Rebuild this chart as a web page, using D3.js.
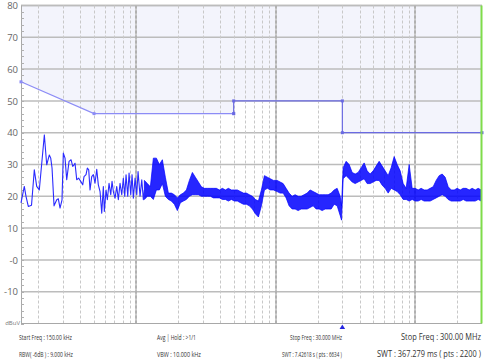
<!DOCTYPE html>
<html>
<head>
<meta charset="utf-8">
<script src="https://cdn.jsdelivr.net/npm/d3@7"></script>
<style>
  body { margin: 0; background: #fff; }
  svg { display: block; }
</style>
</head>
<body>
<div id="plotdiv"></div>
<script>
// Size of the figure
var outerWidth = 485;
var outerHeight = 364;
var plot = { left: 21, top: 5.5, right: 482, bottom: 323.5 };

// Y axis ticks (dBuV)
var yTicks = [-10, 0, 10, 20, 30, 40, 50, 60, 70, 80];
// Vertical grid (MHz) - decades drawn heavier
var gridFreq = [0.2, 0.3, 0.4, 0.5, 0.6, 0.7, 0.8, 0.9,
  2, 3, 4, 5, 6, 7, 8, 9,
  20, 30, 40, 50, 60, 70, 80, 90, 200];
var decadeFreq = [1, 10, 100];

// Limit line
var limitFreq  = [0.15, 0.5, 5, 5, 30, 30, 300];
var limitLevel = [56, 46, 46, 50, 50, 40, 40];

// Trace, low frequency part (single line)
var lineFreq = [0.150, 0.1584, 0.1629, 0.1692, 0.1784, 0.1868, 0.1943, 0.2028, 0.2204, 0.2292,
  0.2393, 0.2449, 0.2502, 0.2586, 0.2704, 0.2776, 0.2855, 0.2950, 0.3014, 0.3100,
  0.3188, 0.3312, 0.3423, 0.3520, 0.3596, 0.3656, 0.3759, 0.3885, 0.4016, 0.4150,
  0.4240, 0.4383, 0.4478, 0.4582, 0.4682, 0.4815, 0.4944, 0.5084, 0.5229, 0.5369,
  0.5522, 0.5679, 0.5831, 0.5927, 0.6096, 0.6228, 0.6405, 0.6587, 0.6730, 0.6876,
  0.7072, 0.7273, 0.7467, 0.7680, 0.7898, 0.8109, 0.8299, 0.8479, 0.8720, 0.8909,
  0.9162, 0.9361, 0.9564, 0.9836, 1.0115, 1.0335, 1.0681, 1.0985, 1.1279, 1.147];
var lineLevel = [17.9, 23.1, 20, 16.8, 17.2, 28.3, 23.1, 22, 39.3, 29.9,
  33, 32, 28.9, 17, 18.9, 19.2, 16.3, 18.9, 33.6, 32,
  25.2, 31, 31.5, 29.4, 29.9, 30.4, 25.2, 25.7, 24.7, 23.6,
  26.2, 26.8, 28.9, 28.3, 22, 26.2, 26.8, 24.1, 28.5, 23.6,
  21.5, 14.7, 23.1, 15.2, 22, 18.9, 24.1, 20.5, 24.7, 21.5,
  19.4, 23.1, 18.9, 24.1, 20.5, 25.7, 20, 26.8, 20, 27.3,
  20.5, 26.8, 19.4, 25.7, 20.5, 27.8, 20, 25.2, 18.9, 22];

// Trace, dense part: min / max envelope per frequency
var bandFreq = [1.147, 1.205, 1.266, 1.330, 1.398, 1.469, 1.543, 1.621, 1.704, 1.790,
  1.881, 1.976, 2.077, 2.182, 2.293, 2.409, 2.531, 2.659, 2.795, 2.936,
  3.085, 3.242, 3.406, 3.579, 3.760, 3.951, 4.151, 4.362, 4.583, 4.815,
  5.060, 5.316, 5.586, 5.869, 6.167, 6.480, 6.808, 7.154, 7.517, 7.898,
  8.299, 8.720, 9.162, 9.627,
  10.23, 10.75, 11.30, 11.87, 12.47, 13.11, 13.77, 14.47, 15.20, 15.97,
  16.79, 17.64, 18.53, 19.47, 20.46, 21.50, 22.59, 23.74, 24.94, 26.21,
  27.54, 28.93, 29.6,
  30.4, 31.94, 33.56, 35.26, 37.05, 38.93, 40.90, 42.98, 45.16, 47.45,
  49.86, 52.39, 55.04, 57.84, 60.77, 63.85, 67.09, 70.49, 74.07, 77.83,
  81.77, 85.92, 90.28, 94.87, 99.68,
  104.7, 110.0, 115.6, 121.5, 127.6, 134.1, 140.9, 148.1, 155.6, 163.5,
  171.8, 180.5, 189.7, 199.3, 209.4, 220.0, 231.2, 242.9, 255.3, 268.2,
  281.8, 296.0];
var bandLo = [19, 20, 20, 19, 22, 22, 24, 20, 19, 18.5,
  17.5, 15.5, 18, 18.5, 19, 20, 20.5, 20.5, 20.5, 20,
  20, 20, 20, 19.5, 19.5, 19.5, 19, 19, 18.5, 19,
  18.5, 18.5, 18, 17.5, 17.5, 17, 16, 14.5, 13.5, 17,
  22, 22.5, 22, 22,
  21.5, 21, 21, 19.5, 17, 16, 16, 15.5, 16, 16,
  16, 16.5, 17, 16, 16, 15.5, 16, 16, 16, 17.5,
  17, 14, 12.5,
  25.5, 26.5, 25.5, 24.5, 24, 24.5, 25, 25.5, 24, 24,
  24.5, 25, 25, 23.5, 22.5, 21, 22.5, 22, 21.5, 20.5,
  19, 19, 18.5, 19, 18.5,
  18.5, 19, 18.5, 18.5, 18.5, 19, 19.5, 20, 20.5, 20,
  19, 18.5, 18.5, 18.5, 18.5, 19, 18.5, 18.5, 18.5, 18.5,
  19, 18.5];
var bandHi = [25, 24, 23, 32, 32, 30, 31.5, 26, 21, 21,
  20.5, 19.5, 20.5, 21, 22, 25, 27.5, 26, 24.5, 23,
  22.5, 22.5, 22.5, 22.5, 22.5, 22, 22.5, 22, 22.5, 22,
  22, 22, 21.5, 21, 21, 20.5, 20, 19, 18.5, 22,
  26.5, 26, 25.5, 25,
  25, 24.5, 24, 22.5, 21, 20, 20.5, 20, 20, 20.5,
  21, 22, 21.5, 21, 20.5, 20.5, 20.5, 20.5, 21, 22,
  22.5, 20, 17,
  29, 31, 30, 27.5, 27, 27.5, 29, 30.5, 28, 27,
  28, 29.5, 31, 29.5, 28, 26.5, 29, 32.5, 30, 28,
  24, 22.5, 30, 22.5, 22.5,
  22, 22.5, 22, 22, 22.5, 23, 25, 26.5, 27, 26,
  23, 22, 22, 22.5, 22, 22.5, 22.5, 22, 22.5, 22,
  22.5, 22];

// Footer texts
var footLeft  = ["Start Freq : 150.00 kHz", "RBW( -6dB ) : 9.000 kHz"];
var footMid   = ["Avg | Hold : >1/1", "VBW : 10.000 kHz"];
var footSeg   = ["Stop Freq : 30.000 MHz", "SWT : 7.42618 s ( pts : 6634 )"];
var footRight = ["Stop Freq : 300.00 MHz", "SWT : 367.279 ms ( pts : 2200 )"];

// Scales
var xScale = d3.scaleLog().domain([0.15, 300]).range([plot.left, plot.right]);
var yScale = d3.scaleLinear().domain([-20, 80]).range([plot.bottom, plot.top]);

var vis = d3.select("#plotdiv").append("svg")
  .attr("width", outerWidth)
  .attr("height", outerHeight);

vis.append("rect").attr("width", outerWidth).attr("height", outerHeight).attr("fill", "#fff");

// Area above the limit line
var limitPts = limitFreq.map(function(f, i) { return [f, limitLevel[i]]; });
vis.append("path")
  .datum(limitPts)
  .attr("fill", "#f3f4fc")
  .attr("d", d3.area()
    .x(function(d) { return xScale(d[0]); })
    .y0(yScale(80))
    .y1(function(d) { return yScale(d[1]); }));

// Horizontal grid
vis.append("g").selectAll("line").data(yTicks.concat([80])).enter().append("line")
  .attr("x1", plot.left).attr("x2", plot.right)
  .attr("y1", function(d) { return yScale(d); })
  .attr("y2", function(d) { return yScale(d); })
  .attr("stroke", "#bcbcbc").attr("stroke-width", 1.5);

// Vertical dashed grid
vis.append("g").selectAll("line").data(gridFreq).enter().append("line")
  .attr("x1", function(d) { return Math.round(xScale(d)) + 0.5; })
  .attr("x2", function(d) { return Math.round(xScale(d)) + 0.5; })
  .attr("y1", plot.top).attr("y2", plot.bottom)
  .attr("stroke", "#c8c8c8").attr("stroke-dasharray", "3,2");

var gDec = vis.append("g").selectAll("g").data(decadeFreq).enter().append("g");
gDec.append("line")
  .attr("x1", function(d) { return Math.round(xScale(d)); })
  .attr("x2", function(d) { return Math.round(xScale(d)); })
  .attr("y1", plot.top).attr("y2", plot.bottom)
  .attr("stroke", "#cdcdcd").attr("stroke-width", 2);
gDec.append("line")
  .attr("x1", function(d) { return Math.round(xScale(d)); })
  .attr("x2", function(d) { return Math.round(xScale(d)); })
  .attr("y1", plot.top).attr("y2", plot.bottom)
  .attr("stroke", "#959595").attr("stroke-dasharray", "3,2");

// Axis lines: left and bottom
vis.append("line").attr("x1", plot.left + 0.5).attr("x2", plot.left + 0.5)
  .attr("y1", plot.top).attr("y2", plot.bottom).attr("stroke", "#a8a8a8");
vis.append("line").attr("x1", plot.left).attr("x2", plot.right)
  .attr("y1", plot.bottom).attr("y2", plot.bottom).attr("stroke", "#a8a8a8");

// Minor ticks on the y axis
var minorY = d3.range(-20, 80, 2);
vis.append("g").selectAll("line").data(minorY).enter().append("line")
  .attr("x1", plot.left).attr("x2", plot.left + 3)
  .attr("y1", function(d) { return Math.round(yScale(d)) + 0.5; })
  .attr("y2", function(d) { return Math.round(yScale(d)) + 0.5; })
  .attr("stroke", "#b0b0b0");

// Y labels
var gAxisY = vis.append("g");
gAxisY.selectAll("text").data(yTicks).enter().append("text")
  .attr("x", plot.left - 3)
  .attr("y", function(d) { return yScale(d) + 3.6; })
  .attr("text-anchor", "end")
  .attr("fill", "#666")
  .style("font-family", "'Open Sans', sans-serif")
  .style("font-size", "9.5px")
  .text(function(d) { return d === 0 ? "-0" : d; });
vis.append("text")
  .attr("x", plot.left - 1).attr("y", plot.bottom + 1)
  .attr("text-anchor", "end")
  .attr("fill", "#777")
  .style("font-family", "'Open Sans', sans-serif")
  .style("font-size", "6px")
  .text("dBuV");

// Limit line, two colours
function limitLine(pts, colour) {
  vis.append("path").datum(pts)
    .attr("fill", "none").attr("stroke", colour).attr("stroke-width", 1.2)
    .attr("d", d3.line()
      .x(function(d) { return xScale(d[0]); })
      .y(function(d) { return yScale(d[1]); }));
  vis.append("g").selectAll("rect").data(pts).enter().append("rect")
    .attr("x", function(d) { return xScale(d[0]) - 1.5; })
    .attr("y", function(d) { return yScale(d[1]) - 1.5; })
    .attr("width", 3).attr("height", 3)
    .attr("fill", colour);
}
limitLine(limitPts.slice(0, 3), "#8c8cf6");
limitLine(limitPts.slice(2), "#6a6ae2");

// Trace - dense band between min and max envelope
var bandPts = bandFreq.map(function(f, i) { return [f, bandLo[i], bandHi[i]]; });
vis.append("path").datum(bandPts)
  .attr("fill", "#0000ff").attr("fill-opacity", 0.85)
  .attr("stroke", "#0000ff").attr("stroke-width", 0.7)
  .attr("stroke-linejoin", "round")
  .attr("d", d3.area()
    .x(function(d) { return xScale(d[0]); })
    .y0(function(d) { return yScale(d[1]); })
    .y1(function(d) { return yScale(d[2]); }));

// Trace - low frequency line
var linePts = lineFreq.map(function(f, i) { return [f, lineLevel[i]]; });
vis.append("path").datum(linePts)
  .attr("fill", "none").attr("stroke", "#2a2aff").attr("stroke-width", 1.1)
  .attr("stroke-linejoin", "round")
  .attr("d", d3.line()
    .x(function(d) { return xScale(d[0]); })
    .y(function(d) { return yScale(d[1]); }));

// Green right edge
vis.append("line").attr("x1", plot.right - 0.5).attr("x2", plot.right - 0.5)
  .attr("y1", plot.top).attr("y2", plot.bottom)
  .attr("stroke", "#7fdc4a").attr("stroke-width", 2);

// Segment marker at 30 MHz
var mx = xScale(30);
vis.append("path")
  .attr("d", "M" + mx + "," + (plot.bottom + 1) + " l2.8,4.5 l-5.6,0 z")
  .attr("fill", "#2424e0");

// Footer - condensed by squeezing each text to the width it has in the reference
function footer(lines, x, size, widths, alignRight) {
  lines.forEach(function(t, i) {
    var g = vis.append("g");
    var txt = g.append("text")
      .attr("fill", "#333")
      .style("font-family", "'Open Sans', sans-serif")
      .style("font-size", size + "px")
      .text(t);
    var natural = txt.node().getComputedTextLength();
    var sx = widths[i] / natural;
    var left = alignRight ? x - widths[i] : x;
    g.attr("transform", "translate(" + left + "," + (i === 0 ? 340 : 356.8) + ") scale(" + sx + ",1)");
  });
}
footer(footLeft, 19, 8, [53, 54], false);
footer(footMid, 157, 8, [39, 44], false);
footer(footSeg, 342, 8, [52, 60], true);
footer(footRight, 481, 9.8, [80, 104], true);
</script>
</body>
</html>
